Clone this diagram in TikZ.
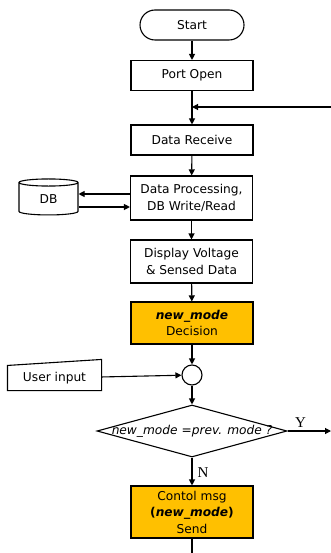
\documentclass[tikz,border=0pt]{standalone}
\usepackage{fontspec}
\setmainfont{DejaVu Sans}
\newfontfamily\ynfont{Liberation Serif}
\usetikzlibrary{arrows.meta,shapes.geometric}

\definecolor{modeorange}{HTML}{FFC000}

\begin{document}
\begin{tikzpicture}[
    x=1pt, y=-1pt,
    line width=1.1pt,
    >={Triangle[length=6pt,width=6pt]},
    every node/.style={font=\fontsize{12.2}{16.5}\selectfont, align=center, inner sep=0pt},
    box/.style={rectangle, draw, minimum width=122pt, minimum height=30pt},
    modebox/.style={box, fill=modeorange},
    terminal/.style={rectangle, draw, rounded corners=15pt, minimum width=104pt, minimum height=30pt},
    decision/.style={diamond, draw, minimum width=190pt, minimum height=52pt},
    storage/.style={cylinder, draw, shape border rotate=90, aspect=0.4, minimum width=59pt, minimum height=36pt},
    yn/.style={font=\ynfont\fontsize{15}{15}\selectfont}
]
\useasboundingbox (0,0) rectangle (331,553);

% main column
\node[terminal] (start) at (192,25) {Start};
\node[box] (port) at (192,75.5) {Port Open};
\node[box] (recv) at (192,140) {Data Receive};
\node[box, minimum height=44pt] (proc) at (191.5,198) {Data Processing,\\DB Write/Read};
\node[box, minimum height=43pt] (disp) at (191.5,261.5) {Display Voltage\\\& Sensed Data};
\node[modebox, minimum height=42pt] (mode) at (192,323) {\textbf{\textit{new\_mode}}\\Decision};
\node[circle, draw, minimum size=20pt] (join) at (192,375) {};
\node[decision] (cmp) at (192,431) {\makebox[0pt]{\itshape new\_mode =prev. mode ?}};
\node[modebox, minimum height=52pt] (send) at (192,512)
    {Contol msg\\\textbf{(\textit{new\_mode})}\\Send};

% side nodes
\node[storage] (db) at (48.5,199) {DB};
\node[minimum width=93pt, minimum height=24pt] (user) at (54.5,378) {User input};
\draw (user.south west) -- (user.south east) -- ([yshift=6pt]user.north east) -- (user.north west) -- cycle;

% loose ends
\coordinate (back) at (331,107);
\coordinate (yes) at (331,431);
\coordinate (next) at (192,553);

% arrows down the column
\draw[->] (start) -- (port);
\draw[->] (port) -- (recv);
\draw[->] (back) -- (back -| port);
\draw[->] (recv) -- (proc);
\draw[->] (proc) -- (disp);
\draw[->] (disp) -- (mode);
\draw[->] (mode) -- (join);
\draw[->] (user) -- (join);
\draw[->] (join) -- (cmp);
\draw[->] (cmp) -- node[yn, right=5pt, pos=0.55] {N} (send);
\draw[->] (cmp.east) -- node[yn, above=3pt, pos=0.3] {Y} (yes);
\draw (send) -- (next);

% DB read/write
\draw[->] ([yshift=4pt]proc.west) -- ([yshift=4pt]proc.west -| db.east);
\draw[->] ([yshift=-9pt]proc.west -| db.east) -- ([yshift=-9pt]proc.west);

\end{tikzpicture}
\end{document}
